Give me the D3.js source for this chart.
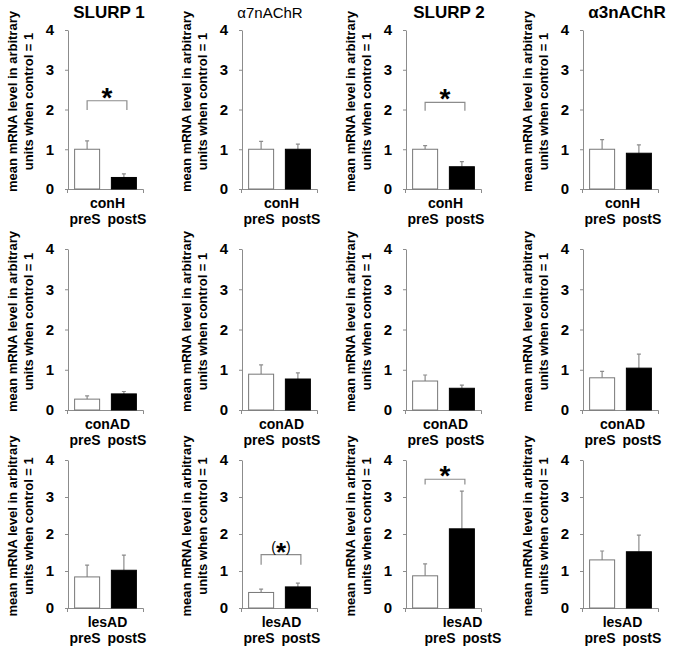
<!DOCTYPE html>
<html>
<head>
<meta charset="utf-8">
<script src="https://cdn.jsdelivr.net/npm/d3@7"></script>
<style>
body { margin: 0; background: #fff; }
text { font-family: "Liberation Sans", Arial, sans-serif; }
</style>
</head>
<body>
<svg width="674" height="650"></svg>
<script>
// genes are columns, groups are rows
var genes = ["SLURP 1", "α7nAChR", "SLURP 2", "α3nAChR"];
var groups = ["conH", "conAD", "lesAD"];
var conditions = ["preS", "postS"];
var yTicks = [0, 1, 2, 3, 4];
var yLabel = ["mean mRNA level in arbitrary", "units when control = 1"];

var preMean = [[1.00, 1.00, 1.00, 1.00], [0.27, 0.89, 0.72, 0.80], [0.84, 0.42, 0.87, 1.30]];
var preErr = [[0.21, 0.20, 0.09, 0.24], [0.08, 0.23, 0.15, 0.16], [0.32, 0.09, 0.32, 0.24]];
var postMean = [[0.29, 1.00, 0.56, 0.90], [0.40, 0.77, 0.54, 1.04], [1.02, 0.57, 2.14, 1.52]];
var postErr = [[0.09, 0.13, 0.13, 0.21], [0.06, 0.15, 0.08, 0.35], [0.41, 0.10, 1.02, 0.45]];

// significance brackets
var sigRow = [0, 0, 2, 2];
var sigCol = [0, 2, 1, 2];
var sigTop = [2.22, 2.18, 1.44, 3.48];
var sigLow = [1.99, 1.97, 1.17, 3.34];
var sigLabel = ["*", "*", "(*)", "*"];

// layout
var colX = [68, 242, 406, 583];
var titleX = [109, 270, 449, 627];
var rowTop = [30, 249, 460];
var rowBottom = [189, 410, 608];
var panelWidth = 75;
var labelShift = [[0, 0, 0, 0], [0, 0, 0, 0], [0, 0, 17, 0]];
var grey = "#8c8c8c";

var svg = d3.select("svg");

// column titles
svg.selectAll(".title")
	.data(genes)
	.enter().append("text")
	.attr("class", "title")
	.attr("x", function(d, i) { return titleX[i]; })
	.attr("y", 18)
	.attr("text-anchor", "middle")
	.attr("font-size", function(d, i) { return i == 1 ? 15 : 17; })
	.attr("font-weight", function(d, i) { return i == 1 ? "normal" : "bold"; })
	.text(function(d) { return d; });

var panels = {};

groups.forEach(function(group, r) {
	genes.forEach(function(gene, c) {
		var g = svg.append("g")
			.attr("transform", "translate(" + colX[c] + ",0)");

		var yScale = d3.scaleLinear()
			.domain([0, 4])
			.range([rowBottom[r], rowTop[r]]);

		var xScale = d3.scaleBand()
			.domain(conditions)
			.range([0, panelWidth])
			.paddingInner(0.32)
			.paddingOuter(0.18);

		panels[r + "_" + c] = {g: g, x: xScale, y: yScale};

		// y axis
		var yAxis = d3.axisLeft(yScale)
			.tickValues(yTicks)
			.tickFormat(d3.format("d"))
			.tickSize(3)
			.tickSizeOuter(0)
			.tickPadding(11);
		var ya = g.append("g").call(yAxis);
		ya.selectAll("path, line").attr("stroke", grey);
		ya.selectAll("text")
			.attr("font-size", 15)
			.attr("font-weight", "bold")
			.attr("fill", "#000")
			.style("font-family", "'Liberation Sans', Arial, sans-serif");

		// x axis with small end ticks
		var xAxis = d3.axisBottom(d3.scaleLinear().domain([0, 1]).range([-1, panelWidth]))
			.tickValues([])
			.tickSizeOuter(4);
		g.append("g")
			.attr("transform", "translate(0," + yScale(0) + ")")
			.call(xAxis)
			.selectAll("path").attr("stroke", grey);

		var bars = [
			{cond: "preS", mean: preMean[r][c], err: preErr[r][c]},
			{cond: "postS", mean: postMean[r][c], err: postErr[r][c]}
		];

		// error bars
		g.selectAll(".err")
			.data(bars)
			.enter().append("path")
			.attr("fill", "none")
			.attr("stroke", grey)
			.attr("stroke-width", 1.2)
			.attr("d", function(d) {
				var cx = xScale(d.cond) + xScale.bandwidth() / 2;
				return "M" + cx + "," + yScale(d.mean) + "V" + yScale(d.mean + d.err) +
					"M" + (cx - 2) + "," + yScale(d.mean + d.err) + "H" + (cx + 2);
			});

		// bars
		g.selectAll(".bar")
			.data(bars)
			.enter().append("rect")
			.attr("x", function(d) { return xScale(d.cond); })
			.attr("width", xScale.bandwidth())
			.attr("y", function(d) { return yScale(d.mean); })
			.attr("height", function(d) { return yScale(0) - yScale(d.mean); })
			.attr("fill", function(d) { return d.cond == "preS" ? "#fff" : "#000"; })
			.attr("stroke", function(d) { return d.cond == "preS" ? "#777" : "#000"; })
			.attr("stroke-width", 1);

		// group label and condition labels
		var shift = labelShift[r][c];
		g.append("text")
			.attr("x", panelWidth / 2 + 2 + shift)
			.attr("y", yScale(0) + 19)
			.attr("text-anchor", "middle")
			.attr("font-size", 14)
			.attr("font-weight", "bold")
			.text(group);

		g.selectAll(".cond")
			.data(conditions)
			.enter().append("text")
			.attr("x", function(d, i) { return xScale(d) + xScale.bandwidth() / 2 + (i == 0 ? -2 : 3) + shift; })
			.attr("y", yScale(0) + 35)
			.attr("text-anchor", "middle")
			.attr("font-size", 14)
			.attr("font-weight", "bold")
			.text(function(d) { return d; });

		// rotated y label
		var midY = (rowTop[r] + rowBottom[r]) / 2 - 8;
		yLabel.forEach(function(line, k) {
			g.append("text")
				.attr("transform", "translate(" + (k == 0 ? -51.5 : -35.5) + "," + midY + ") rotate(-90)")
				.attr("text-anchor", "middle")
				.attr("font-size", 13)
				.attr("font-weight", "bold")
				.text(line);
		});
	});
});

// significance brackets
sigLabel.forEach(function(label, i) {
	var p = panels[sigRow[i] + "_" + sigCol[i]];
	var x1 = p.x("preS") + p.x.bandwidth() / 2;
	var x2 = p.x("postS") + p.x.bandwidth() / 2 + 3;
	var yt = p.y(sigTop[i]);
	var yl = p.y(sigLow[i]);
	p.g.append("path")
		.attr("fill", "none")
		.attr("stroke", grey)
		.attr("stroke-width", 1.2)
		.attr("d", "M" + x1 + "," + yl + "V" + yt + "H" + x2 + "V" + yl);

	var t = p.g.append("text")
		.attr("x", (x1 + x2) / 2)
		.attr("text-anchor", "middle");
	if (label == "*") {
		t.attr("y", yt + 6)
			.attr("font-size", 28)
			.attr("font-weight", "bold")
			.text("*");
	} else {
		t.attr("y", yt - 3).attr("font-size", 14);
		t.append("tspan").text("(");
		t.append("tspan").attr("font-size", 26).attr("font-weight", "bold").attr("dy", 9).text("*");
		t.append("tspan").attr("dy", -9).text(")");
	}
});
</script>
</body>
</html>
